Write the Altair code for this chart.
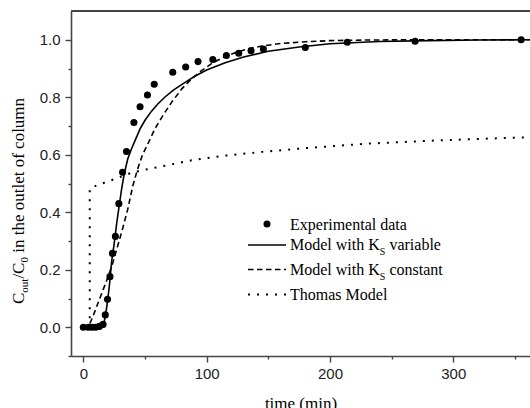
import altair as alt
import pandas as pd

# ---------------- data ----------------
exp_t = [0, 4, 7, 10, 13, 16, 17.8, 19.6, 21.6, 23.6, 26, 28.8, 31.8, 35, 41, 46, 52, 57.5,
         72.5, 83, 93, 105, 116, 126, 136, 146, 180, 214, 269, 355]
exp_c = [0, 0, 0, 0, 0.003, 0.01, 0.043, 0.097, 0.176, 0.257, 0.316, 0.43, 0.539, 0.611, 0.712,
         0.767, 0.808, 0.845, 0.887, 0.905, 0.924, 0.931, 0.945, 0.953, 0.962, 0.968, 0.973,
         0.991, 0.995, 1.0]

var_t = [0, 15, 17, 19, 21, 23, 25, 27, 29, 31, 33, 36, 39, 42, 46, 50, 55, 60, 66, 73, 80, 90,
         100, 115, 130, 150, 175, 200, 240, 280, 320, 362]
var_c = [0, 0, 0.02, 0.07, 0.14, 0.23, 0.29, 0.36, 0.42, 0.48, 0.53, 0.585, 0.62, 0.65, 0.69,
         0.72, 0.75, 0.775, 0.80, 0.825, 0.845, 0.872, 0.895, 0.92, 0.94, 0.96, 0.975, 0.986,
         0.994, 0.997, 0.999, 1.0]

const_t = [0, 4, 8, 12, 16, 20, 24, 28, 32, 36, 40, 44, 48, 52, 58, 65, 72, 80, 88, 95, 105, 115,
           125, 135, 145, 160, 180, 200, 230, 270, 320, 362]
const_c = [0, 0, 0.04, 0.085, 0.13, 0.175, 0.225, 0.285, 0.345, 0.41, 0.49, 0.55, 0.60, 0.635,
           0.69, 0.74, 0.785, 0.83, 0.865, 0.89, 0.92, 0.942, 0.958, 0.97, 0.978, 0.987, 0.993,
           0.997, 0.999, 1.0, 1.0, 1.0]

th_t = [5.2, 5.2, 12, 27, 40, 49, 63, 87, 115, 145, 180, 228, 282, 320, 362]
th_c = [0, 0.483, 0.495, 0.518, 0.539, 0.547, 0.559, 0.58, 0.597, 0.61, 0.623, 0.638, 0.649,
        0.655, 0.661]

x_ticks = [0, 50, 100, 150, 200, 250, 300, 350]
y_ticks = [-0.1, 0.0, 0.1, 0.2, 0.3, 0.4, 0.5, 0.6, 0.7, 0.8, 0.9, 1.0]

legend_labels = ["Experimental data", "Model with K", "Model with K", "Thomas Model"]
legend_tails = ["", "variable", "constant", ""]

# ---------------- layout ----------------
W, H = 459, 345
PAD_L, PAD_T = 71, 11
SERIF = "Liberation Serif"
SANS = "Liberation Sans"
AX = "#444444"

df_exp = pd.DataFrame({"t": exp_t, "c": exp_c})
df_var = pd.DataFrame({"t": var_t, "c": var_c, "i": range(len(var_t))})
df_const = pd.DataFrame({"t": const_t, "c": const_c, "i": range(len(const_t))})
df_th = pd.DataFrame({"t": th_t, "c": th_c, "i": range(len(th_t))})

xscale = alt.Scale(domain=[-10, 362.2], nice=False, zero=False)
yscale = alt.Scale(domain=[-0.1, 1.1], nice=False, zero=False)

x_axis = alt.Axis(
    values=x_ticks,
    labelExpr="datum.value % 100 == 0 ? datum.label : ''",
    tickSize={"condition": {"test": "datum.value % 100 == 0", "value": 6}, "value": 3},
    grid=False, domainColor=AX, domainWidth=1.6, tickColor=AX, tickWidth=1.4,
    labelFont=SANS, labelFontSize=15, labelColor="#222222", labelPadding=4,
    title="time (min)", titleFont=SERIF, titleFontSize=17, titleFontWeight="normal",
    titleColor="black", titleBaseline="alphabetic", titleY=52,
)
y_axis = alt.Axis(
    values=y_ticks,
    format=".1f",
    labelExpr="round(datum.value * 10) % 2 == 0 ? datum.label : ''",
    tickSize={"condition": {"test": "round(datum.value * 10) % 2 == 0", "value": 6}, "value": 3},
    grid=False, domainColor=AX, domainWidth=1.6, tickColor=AX, tickWidth=1.4,
    labelFont=SANS, labelFontSize=15, labelColor="#222222", labelPadding=5,
    title=None,
)

X = alt.X("t:Q", scale=xscale, axis=x_axis)
Y = alt.Y("c:Q", scale=yscale, axis=y_axis)

solid = alt.Chart(df_var).mark_line(color="black", strokeWidth=1.6, clip=True).encode(
    x=X, y=Y, order="i:Q")
dashed = alt.Chart(df_const).mark_line(color="black", strokeWidth=1.6, strokeDash=[5.5, 3.5],
                                       clip=True).encode(x=X, y=Y, order="i:Q")
dotted = alt.Chart(df_th).mark_line(color="black", strokeWidth=2, strokeDash=[2, 7],
                                    strokeCap="butt", clip=True).encode(x=X, y=Y, order="i:Q")
points = alt.Chart(df_exp).mark_point(filled=True, color="black", size=50, opacity=1,
                                      clip=True).encode(x=X, y=Y)

one = alt.Data(values=[{}])

# top frame line
top = alt.Chart(one).mark_rule(color=AX, strokeWidth=1.8).encode(
    x=alt.value(0), x2=alt.value(W + 2), y=alt.value(0))

# ---------------- legend ----------------
sym_x0, sym_x1, txt_x = 177, 215, 219
rows_sym = [213, 234, 258.5, 283.5]
rows_base = [218.7, 238.7, 264, 289]
leg = [alt.Chart(one).mark_point(filled=True, color="black", size=50, opacity=1).encode(
    x=alt.value((sym_x0 + sym_x1) / 2), y=alt.value(rows_sym[0]))]
for k, dash in [(1, None), (2, [5.5, 3.5]), (3, [2, 7])]:
    kw = {"strokeDash": dash} if dash else {}
    leg.append(alt.Chart(one).mark_rule(color="black", strokeWidth=1.6 if k < 3 else 2,
                                        strokeCap="butt", **kw).encode(
        x=alt.value(sym_x0), x2=alt.value(sym_x1), y=alt.value(rows_sym[k])))
KW = 89.8  # width of "Model with K" at 16px
for k in range(4):
    leg.append(alt.Chart(one).mark_text(text=legend_labels[k], font=SERIF, fontSize=16,
                                        align="left", baseline="alphabetic", color="black").encode(
        x=alt.value(txt_x), y=alt.value(rows_base[k])))
    if legend_tails[k]:
        leg.append(alt.Chart(one).mark_text(text="S", font=SERIF, fontSize=10, align="left",
                                            baseline="alphabetic", color="black").encode(
            x=alt.value(txt_x + KW), y=alt.value(rows_base[k] + 5)))
        leg.append(alt.Chart(one).mark_text(text=legend_tails[k], font=SERIF, fontSize=16,
                                            align="left", baseline="alphabetic",
                                            color="black").encode(
            x=alt.value(txt_x + KW + 5.6 + 4), y=alt.value(rows_base[k])))

# ---------------- y title (rotated, with subscripts) ----------------
tx = -47
y0 = 293
parts = [("C", 17, 0, 0.667 * 17, 0), ("out", 11, 3.5, 1.278 * 11, 0),
         ("/C", 17, 0, 0.945 * 17, 0), ("0", 11, 3.5, 0.5 * 11, 0),
         ("in the outlet of column", 17, 0, 9.111 * 17, 0.25 * 17)]
ytitle = []
pos = y0
for s, fs, dx, w, gap in parts:
    pos -= gap
    ytitle.append(alt.Chart(one).mark_text(text=s, font=SERIF, fontSize=fs, angle=270,
                                           align="left", baseline="alphabetic",
                                           color="black").encode(
        x=alt.value(tx + dx), y=alt.value(pos)))
    pos -= w

chart = alt.layer(dotted, dashed, solid, points, top, *leg, *ytitle).properties(
    width=W, height=H,
    padding={"left": PAD_L, "top": PAD_T, "right": 0, "bottom": 408 - PAD_T - H},
    autosize=alt.AutoSizeParams(type="none"),
    background="white",
).configure_view(stroke=None)

chart.save("out.html", embed_options={"renderer": "svg", "actions": False})
